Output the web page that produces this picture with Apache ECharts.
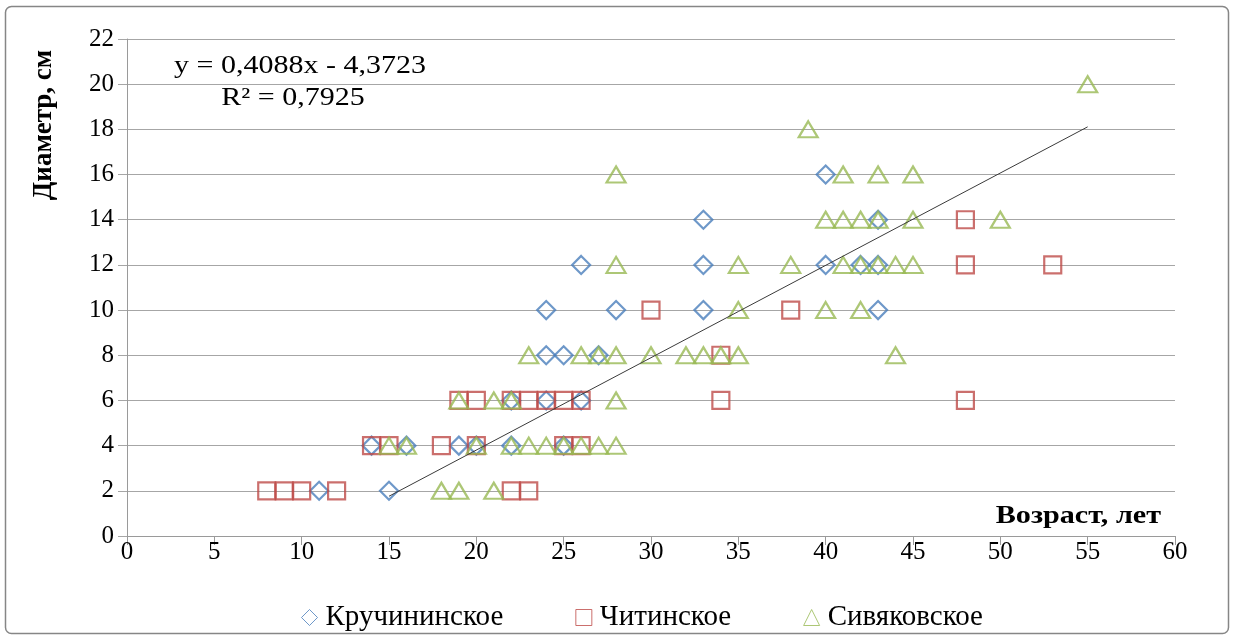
<!DOCTYPE html>
<html>
<head>
<meta charset="utf-8">
<script src="https://cdn.jsdelivr.net/npm/echarts@6/dist/echarts.min.js"></script>
<style>
  html, body { margin: 0; padding: 0; background: #fff; }
  #chart { width: 1235px; height: 640px; }
</style>
</head>
<body>
<div id="chart"></div>
<script>
// Кручининское
const kruX = [11, 15, 14, 16, 19, 20, 22, 25, 22, 24, 26, 24, 25, 27, 24, 28, 33, 43, 26, 33, 40, 42, 43, 33, 43, 40];
const kruY = [2, 2, 4, 4, 4, 4, 4, 4, 6, 6, 6, 8, 8, 8, 10, 10, 10, 10, 12, 12, 12, 12, 12, 14, 14, 16];
// Читинское
const chiX = [8, 9, 10, 12, 22, 23, 14, 15, 18, 20, 25, 26, 19, 20, 22, 23, 24, 25, 26, 34, 48, 34, 30, 38, 48, 53, 48];
const chiY = [2, 2, 2, 2, 2, 2, 4, 4, 4, 4, 4, 4, 6, 6, 6, 6, 6, 6, 6, 6, 6, 8, 10, 10, 12, 12, 14];
// Сивяковское
const sivX = [18, 19, 21, 15, 16, 20, 22, 23, 24, 25, 26, 27, 28, 19, 21, 22, 28, 23, 26, 27, 28, 30, 32, 33, 34, 35, 44,
              35, 40, 42, 28, 35, 38, 41, 42, 43, 44, 45, 40, 41, 42, 43, 45, 50, 28, 41, 43, 45, 39, 55];
const sivY = [2, 2, 2, 4, 4, 4, 4, 4, 4, 4, 4, 4, 4, 6, 6, 6, 6, 8, 8, 8, 8, 8, 8, 8, 8, 8, 8,
              10, 10, 10, 12, 12, 12, 12, 12, 12, 12, 12, 14, 14, 14, 14, 14, 14, 16, 16, 16, 16, 18, 20];

// линия тренда: y = 0,4088x - 4,3723
const trendSlope = 0.4088;
const trendIntercept = -4.3723;
const trendX = [15, 55];

const seriesNames = ['Кручининское', 'Читинское', 'Сивяковское'];

function zip(xs, ys) {
    return xs.map((x, i) => [x, ys[i]]);
}

const FONT = 'Liberation Serif';

const chart = echarts.init(document.getElementById('chart'));

const option = {
    animation: false,
    grid: {left: 127, right: 60, top: 39, bottom: 104},
    xAxis: {
        type: 'value',
        min: 0,
        max: 60,
        interval: 5,
        splitLine: {show: false},
        axisLine: {lineStyle: {color: '#9a9a9a', width: 1}},
        axisTick: {show: true, length: 9, lineStyle: {color: '#9a9a9a'}},
        axisLabel: {fontFamily: FONT, fontSize: 25, color: '#000', margin: 4}
    },
    yAxis: {
        type: 'value',
        min: 0,
        max: 22,
        interval: 2,
        splitLine: {lineStyle: {color: '#a6a6a6', width: 1}},
        axisLine: {show: true, lineStyle: {color: '#9a9a9a', width: 1}},
        axisTick: {show: true, length: 9, lineStyle: {color: '#a6a6a6'}},
        axisLabel: {fontFamily: FONT, fontSize: 25, color: '#000', margin: 13}
    },
    legend: {
        data: seriesNames,
        left: 296,
        top: 598,
        itemWidth: 16,
        itemHeight: 16,
        itemGap: 72,
        itemStyle: {borderWidth: 1},
        textStyle: {fontFamily: FONT, fontSize: 29, color: '#000', padding: [0, 0, 0, 3]}
    },
    graphic: [
        {
            type: 'rect',
            shape: {x: 5.5, y: 6.5, width: 1223, height: 627, r: 6},
            style: {fill: 'none', stroke: '#868686', lineWidth: 1.5},
            silent: true
        },
        {
            type: 'text',
            x: 300, y: 66,
            scaleX: 1.2,
            style: {text: 'y = 0,4088x - 4,3723', font: '25px ' + FONT, fill: '#000', textAlign: 'center', textVerticalAlign: 'middle'}
        },
        {
            type: 'text',
            x: 293, y: 98,
            scaleX: 1.2,
            style: {text: 'R² = 0,7925', font: '25px ' + FONT, fill: '#000', textAlign: 'center', textVerticalAlign: 'middle'}
        },
        {
            type: 'text',
            x: 44, y: 125,
            rotation: Math.PI / 2,
            style: {text: 'Диаметр, см', font: 'bold 27px ' + FONT, fill: '#000', textAlign: 'center', textVerticalAlign: 'middle'}
        },
        {
            type: 'text',
            x: 1161, y: 516,
            scaleX: 1.16,
            style: {text: 'Возраст, лет', font: 'bold 26px ' + FONT, fill: '#000', textAlign: 'right', textVerticalAlign: 'middle'}
        }
    ],
    series: [
        {
            name: seriesNames[0],
            type: 'scatter',
            symbol: 'diamond',
            symbolSize: [18, 18],
            itemStyle: {color: 'rgba(255,255,255,0)', borderColor: '#4a7ebb', borderWidth: 2.2},
            data: zip(kruX, kruY)
        },
        {
            name: seriesNames[1],
            type: 'scatter',
            symbol: 'rect',
            symbolSize: [17, 17],
            itemStyle: {color: 'rgba(255,255,255,0)', borderColor: '#be4b48', borderWidth: 2.2},
            data: zip(chiX, chiY)
        },
        {
            name: seriesNames[2],
            type: 'scatter',
            symbol: 'triangle',
            symbolSize: [19, 16],
            itemStyle: {color: 'rgba(255,255,255,0)', borderColor: '#98b954', borderWidth: 2.2},
            data: zip(sivX, sivY)
        },
        {
            name: 'trend',
            type: 'line',
            symbol: 'none',
            silent: true,
            lineStyle: {color: '#3a3a3a', width: 1},
            data: trendX.map(x => [x, trendSlope * x + trendIntercept])
        }
    ]
};

chart.setOption(option);
</script>
</body>
</html>
